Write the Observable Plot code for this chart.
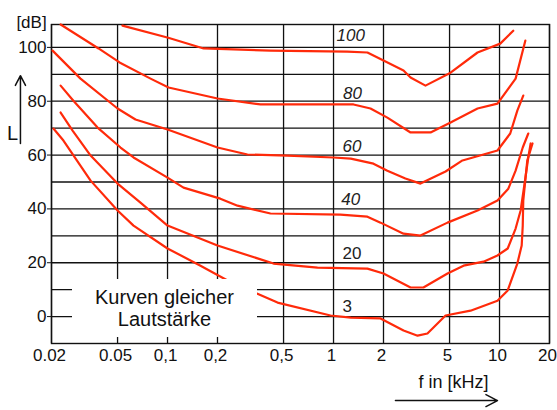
<!DOCTYPE html>
<html>
<head>
<meta charset="utf-8">
<script src="https://cdn.jsdelivr.net/npm/d3@7"></script>
<script src="https://cdn.jsdelivr.net/npm/@observablehq/plot@0.6"></script>
<style>
  html, body { margin: 0; padding: 0; background: #fff; }
  #wrap { position: relative; width: 557px; height: 410px; font-family: "Liberation Sans", Arial, sans-serif; }
  #note { position: absolute; left: 72px; top: 279px; width: 185px; height: 58px; background: #fff;
          text-align: center; font-size: 20px; line-height: 22px; padding-top: 7px; box-sizing: border-box; color: #111; }
</style>
</head>
<body>
<div id="wrap"></div>
<script>
// ---- data ----
const freqTicks = [0.02, 0.05, 0.1, 0.2, 0.5, 1, 2, 5, 10, 20];
const freqTickLabels = ["0.02", "0.05", "0,1", "0,2", "0,5", "1", "2", "5", "10", "20"];
const dbGrid = [0, 10, 20, 30, 40, 50, 60, 70, 80, 90, 100];
const dbTicks = [0, 20, 40, 60, 80, 100];
const levels = [100, 80, 60, 40, 20, 3];

const curve100F  = [0.0535, 0.101, 0.165, 0.417, 1.21, 1.60, 2.00, 2.64, 2.91, 3.58, 5.07, 7.37, 10.1, 12.1];
const curve100Db = [108.1, 103.6, 99.6, 98.8, 98.4, 98.1, 95.1, 91.4, 88.8, 85.8, 90.6, 98.1, 101.4, 106.2];

const curve80F  = [0.0227, 0.0384, 0.0514, 0.0790, 0.1014, 0.200, 0.363, 1.32, 1.67, 2.11, 2.91, 3.84, 5.07, 7.37, 9.72, 12.5, 14.3];
const curve80Db = [108.5, 99.6, 94.4, 88.4, 85.1, 81.0, 78.8, 78.8, 77.3, 73.9, 68.4, 68.4, 72.1, 77.3, 79.1, 88.4, 102.5];

const curve60F  = [0.0203, 0.0299, 0.0500, 0.0641, 0.1000, 0.200, 0.303, 0.528, 1.00, 1.27, 1.74, 2.11, 2.71, 3.34, 4.73, 5.98, 9.72, 11.6, 12.8, 13.9];
const curve60Db = [98.8, 88.4, 77.3, 73.2, 69.5, 62.8, 60.2, 59.8, 59.1, 58.7, 56.8, 54.2, 51.3, 49.4, 53.9, 58.0, 61.7, 68.0, 76.5, 82.1];

const curve40F  = [0.0227, 0.0271, 0.0379, 0.0521, 0.0624, 0.1000, 0.1248, 0.208, 0.264, 0.417, 1.10, 1.60, 1.92, 2.64, 3.34, 4.86, 7.37, 9.72, 11.3, 12.5, 13.8, 14.9];
const curve40Db = [85.8, 80.2, 70.2, 62.8, 59.1, 51.6, 47.9, 43.8, 41.2, 38.3, 37.9, 37.1, 34.9, 30.8, 30.1, 34.9, 39.4, 43.1, 47.5, 54.2, 62.8, 68.0];

const curve20F  = [0.0227, 0.0268, 0.0344, 0.0500, 0.0687, 0.1000, 0.200, 0.435, 0.801, 1.60, 2.00, 2.91, 3.48, 4.86, 6.07, 8.01, 9.72, 11.2, 12.5, 13.4, 14.1, 14.9, 15.4];
const curve20Db = [75.8, 69.1, 59.8, 49.4, 42.3, 33.8, 26.4, 19.7, 18.2, 17.8, 16.0, 10.8, 10.8, 16.0, 18.9, 20.4, 22.7, 25.3, 32.7, 39.4, 48.7, 59.1, 64.3];

const curve3F  = [0.0206, 0.0236, 0.0344, 0.0500, 0.0624, 0.1000, 0.158, 0.230, 0.348, 0.460, 0.959, 1.27, 1.92, 2.64, 3.21, 3.68, 4.73, 6.69, 9.72, 11.2, 12.8, 13.6, 13.8, 13.9, 14.7, 15.8];
const curve3Db = [69.8, 65.4, 50.5, 39.4, 33.8, 25.3, 18.9, 13.4, 8.5, 5.2, 0.4, -0.4, -0.7, -5.2, -7.1, -6.3, 0.4, 2.2, 5.9, 9.7, 19.7, 26.4, 33.8, 43.1, 58.0, 64.3];

const labelText = ["100", "80", "60", "40", "20", "3"];
const labelF    = [1.27, 1.30, 1.29, 1.27, 1.29, 1.21];
const labelDb   = [104.5, 83.0, 63.2, 43.5, 23.4, 3.7];
const labelItalic = [true, true, true, true, false, false];

// ---- build tidy tables ----
const curvesF = [curve100F, curve80F, curve60F, curve40F, curve20F, curve3F];
const curvesDb = [curve100Db, curve80Db, curve60Db, curve40Db, curve20Db, curve3Db];
const rows = [];
levels.forEach((lv, k) => curvesF[k].forEach((f, i) => rows.push({level: lv, f, db: curvesDb[k][i]})));
const labels = labelText.map((t, i) => ({t, f: labelF[i], db: labelDb[i], italic: labelItalic[i]}));
const xTicks = freqTicks.map((f, i) => ({f, t: freqTickLabels[i], last: i === freqTicks.length - 1}));

const red = "#ff2a0a";
const ink = "#111";
const font = "Liberation Sans, Arial, sans-serif";

const chart = Plot.plot({
  width: 557,
  height: 410,
  marginLeft: 51,
  marginRight: 8,
  marginTop: 24,
  marginBottom: 67,
  x: {type: "log", domain: [0.02, 20], axis: null},
  y: {domain: [-10, 108.5], axis: null},
  style: {fontFamily: font, fontSize: "17px", background: "#fff", color: ink},
  marks: [
    Plot.ruleY(dbGrid, {stroke: ink, strokeWidth: 1.3}),
    Plot.ruleX(freqTicks, {stroke: ink, strokeWidth: 1.3}),
    Plot.frame({stroke: ink, strokeWidth: 1.4}),
    Plot.line(rows, {x: "f", y: "db", z: "level", stroke: red, strokeWidth: 2.2, curve: "linear"}),
    Plot.text(labels, {filter: d => d.italic, x: "f", y: "db", text: "t", fontStyle: "italic", fontSize: 17, fill: "#222"}),
    Plot.text(labels, {filter: d => !d.italic, x: "f", y: "db", text: "t", fontSize: 17, fill: "#222"}),
    Plot.axisY({ticks: dbTicks, tickSize: 4, tickPadding: 1, label: null, fontSize: 17, stroke: ink}),
    Plot.text(xTicks, {filter: d => !d.last, x: "f", text: "t", frameAnchor: "bottom", dy: 17, dx: -2, fontSize: 17, fill: ink}),
    Plot.text(xTicks, {filter: d => d.last, x: "f", text: "t", frameAnchor: "bottom", dy: 17, dx: -2, textAnchor: "middle", fontSize: 17, fill: ink}),
    Plot.text(["[dB]"], {frameAnchor: "top-left", dx: -20, dy: -9, textAnchor: "middle", fontSize: 17, fill: ink}),
    Plot.text(["L"], {frameAnchor: "top-left", dx: -39, dy: 101, textAnchor: "middle", fontSize: 20, fill: ink}),
    Plot.arrow([0], {x1: 0.013, x2: 0.013, y1: 64.3, y2: 89.5, stroke: ink, strokeWidth: 1.5, headLength: 11, headAngle: 55}),
    Plot.text(["f in [kHz]"], {frameAnchor: "bottom-right", dx: -96, dy: 44, textAnchor: "middle", fontSize: 18, fill: ink}),
    Plot.arrow([0], {x1: 2.36, x2: 9.72, y1: -31.2, y2: -31.2, stroke: ink, strokeWidth: 1.5, headLength: 13, headAngle: 55})
  ]
});

const wrap = document.getElementById("wrap");
wrap.appendChild(chart);
const note = document.createElement("div");
note.id = "note";
note.innerHTML = "Kurven gleicher<br>Lautstärke";
wrap.appendChild(note);
</script>
</body>
</html>
